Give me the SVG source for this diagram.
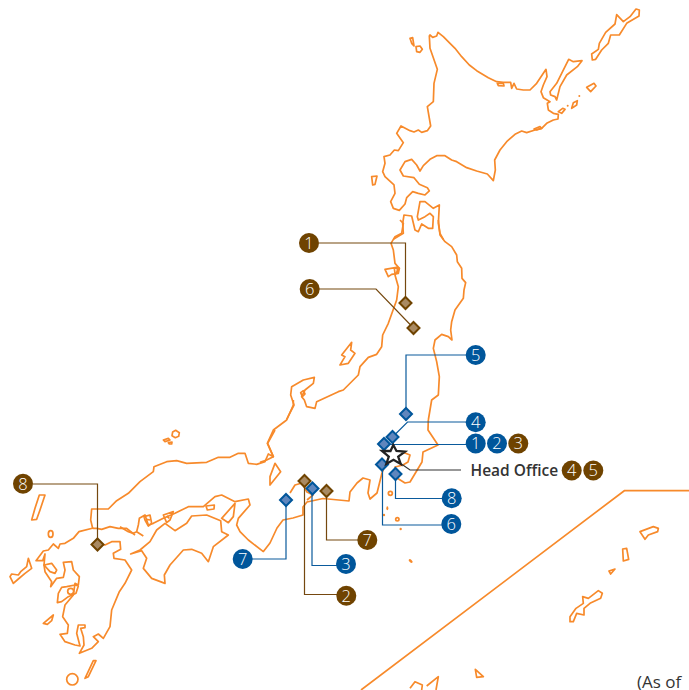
<svg xmlns="http://www.w3.org/2000/svg" width="689" height="690" viewBox="0 0 689 690">
<style>
.c{fill:none;stroke:#f78a2b;stroke-width:1.7;stroke-linejoin:round;vector-effect:non-scaling-stroke}
.d{fill:#f78a2b;stroke:none}
.lb{fill:none;stroke:#0a5a9c;stroke-width:1.2}
.lr{fill:none;stroke:#75480f;stroke-width:1.2}
.lk{fill:none;stroke:#333;stroke-width:1.2}
.bb{fill:#00569b}
.br{fill:#6f4300}
.db{fill:#5f86bd;stroke:#00569b;stroke-width:2}
.dr{fill:#a98a62;stroke:#6f4300;stroke-width:2}
.n{fill:#fff;font:300 16.500px "Open Sans","Noto Sans",sans-serif;text-anchor:middle}
.t{fill:#333;font-family:"Open Sans","Noto Sans",sans-serif}
</style>
<defs><path id="dm" d="M0,-6L6,0L0,6L-6,0Z"/></defs>
<g id="map">
<g transform="translate(340 0) scale(.33333)">
<path class="c" d="M268,108L270,105L278,112L290,108L294,97L310,110L330,130L345,145L365,170L388,195L410,212L445,233L470,245L490,247L512,247L515,265L522,250L530,267L550,270L570,270L590,250L610,220L618,208L621,230L610,255L603,275L610,293L630,305L622,310L625,330L640,340L655,343L654,357L640,360L620,370L605,385L585,390L560,398L545,393L525,403L500,425L480,450L464,480L466,510L460,542L442,522L410,513L380,503L350,485L335,480L315,467L290,467L270,478L250,497L240,513L230,495L215,478L195,485L180,510L190,528L222,533L238,553L262,563L268,573L255,585L235,580L218,575L200,593L195,612L178,631L160,625L152,605L165,580L162,555L135,530L128,515L135,490L132,470L150,465L163,450L175,452L190,428L170,400L183,378L210,392L222,396L235,390L245,397L262,392L272,378L262,320L280,305L282,250L292,208L270,145Z"/>
<path class="c" d="M210,115L218,113L222,138L215,130ZM228,140L240,138L247,148L240,157L230,155ZM95,530L111,528L105,553L98,555ZM630,275L650,250L665,220L686,178L700,185L726,182L712,200L680,225L660,260L650,300L645,290L632,285ZM755,162L775,148L778,130L797,97L825,72L830,44L850,65L870,50L888,27L898,30L897,48L860,70L838,105L812,105L805,130L785,150L767,178L757,180ZM740,262L762,250L768,258L752,275ZM655,335L668,325L675,328L665,340ZM700,308L712,302L710,315L695,325ZM582,387L600,380L605,385L590,390ZM472,250L490,250L492,258L475,257Z"/>
<circle class="d" cx="683" cy="317" r="3"/><circle class="d" cx="718" cy="288" r="3"/>
<path class="c" d="M160,718L190,700L188,670L192,645L215,648L225,690L235,695L245,672L265,685L278,685L280,650L270,640L255,650L235,660L232,650L240,605L255,605L280,625L298,615L295,670L300,700L310,718"/>
</g>
<g transform="translate(260 220) scale(.33333)">
<path class="c" d="M535,0L540,45L555,65L575,80L590,105L592,125L605,145L606,175L617,188L612,210L610,235L585,270L575,305L572,330L576,360L565,350L545,343L525,360L520,385L530,425L538,470L535,525L515,540L505,600"/>
<path class="c" d="M420,0L430,10L425,40L405,50L393,70L400,90L405,130L418,145L405,165L415,200L410,240L385,310L368,345L365,380L350,403L325,412L300,440L295,465L250,510L235,515L170,545L165,565L140,560L133,540L125,530L135,510L160,490L163,472L130,480L95,500L92,525L102,555L80,598"/>
<path class="c" d="M375,148L410,142L418,145L415,160L395,163L385,170ZM403,145L412,143L412,160L405,160Z"/>
<path class="c" d="M245,405L275,367L272,390L285,400L265,430L240,435L255,410Z"/>
<path class="c" d="M122,518L130,512L135,522L127,530Z"/>
</g>
<path class="c" d="M428.300,420L428,430L438,445L423,452L422,462L410,482L405,483L397,478L395,467L403,465L408,462L410,455L405,453L398,452M385,465L382,473L377,493L370,499L368,493L370,480L363,478L357,483L350,492L349,501L323,498.500L307,502L303,507L303,515L293,518L283,520L277,528L270,543L263,552"/>
<path class="c" d="M290,493L295,485L302,483L307,492L313,495L307,500"/>
<g transform="translate(260 400) scale(.33333)">
<path class="c" d="M100,0L100,15L80,60L40,90L22,130L40,170L20,180L0,187"/>
<path class="c" d="M45,190L62,215L30,255L30,230Z"/>
<circle class="c" cx="391" cy="280" r="6"/><circle class="c" cx="412" cy="358" r="5"/>
<ellipse class="d" cx="382" cy="325" rx="3" ry="6"/><circle class="d" cx="372" cy="345" r="3.500"/><circle class="d" cx="422" cy="387" r="3.500"/>
<ellipse class="d" cx="452" cy="483" rx="7" ry="4" transform="rotate(40 452 483)"/>
</g>
<g transform="translate(0 430) scale(.33333)">
<path class="c" d="M825,0L803,40L820,80L805,72L795,95L770,103L745,100L735,70L715,70L690,82L655,82L620,97L560,100L530,92L500,95L462,110L460,125L420,155L385,190L350,212L325,237L275,237L272,270L278,295"/>
<path class="c" d="M527,1L538,8L536,19L526,23L516,17L518,6ZM490,30L505,25L510,30L495,35ZM505,38L516,36L515,42L508,42Z"/>
</g>
<g transform="translate(120 490) scale(.33333)">
<path class="c" d="M0,110L25,125L40,130L50,125L70,138M50,125L55,105L58,85L75,75L85,105L100,100L130,85L165,70L205,50L250,50L285,20L305,15L345,35L385,27L390,45L355,85L350,105L360,125L385,150L430,185"/>
<path class="c" d="M32,192L65,182L80,205L70,235L95,265L135,280L133,255L150,225L190,180L215,178L245,190L265,215L280,170L325,135L305,125L302,92L260,75L215,78L200,100L165,122L135,100L110,120L90,155L60,180Z"/>
<path class="c" d="M305,85L345,40L340,80L325,98ZM258,48L283,45L282,57L262,60Z"/>
<path class="c" d="M72,80L90,75L95,100L85,108L75,90ZM80,88L90,90M130,75L160,65L150,90L140,98ZM140,78L148,85"/>
</g>
<g transform="translate(10 530) scale(.33333)">
<path class="c" d="M250,-6L207,5L190,25L165,40L150,42L145,55L130,42L115,60L100,63L78,92L98,92L105,72L102,105L105,125L125,155L122,170L140,145L160,142L165,120L160,97L185,95L190,120L208,140L205,165L195,160L190,195L165,225L158,260L175,285L172,310L150,313L165,335L195,345L210,348L200,310L205,285L225,285L225,293L212,295L220,320L222,345L208,370L245,355L265,335L250,320L265,312L280,325L300,290L305,240L328,185L345,160L365,120L345,90L312,85L310,70L332,58L330,35L305,35L285,45L265,40"/>
<path class="c" d="M142,218L145,190L155,172L170,170L195,165L205,168L198,190L175,200L155,215Z"/>
<circle class="c" cx="182" cy="184" r="9"/>
<path class="c" d="M102,105L125,100L140,120L135,130L120,125Z"/>
<path class="c" d="M0,140L5,132L25,135L32,125L50,110L55,85L65,115L45,130L25,147L10,160ZM100,280L130,255L125,272L112,283ZM225,445L250,392L258,392L235,440Z"/>
<ellipse class="c" cx="122" cy="12" rx="7" ry="10"/>
<circle class="c" cx="187" cy="448" r="17"/>
</g>
<g transform="translate(0 430) scale(.33333)">
<path class="c" d="M95,270L105,235L118,195L135,195L120,240L110,268Z"/>
<path class="c" d="M278,295L290,295L305,298L330,290L355,295L380,295L405,315"/>
</g>
<g transform="translate(360 480) scale(.33333)">
<path class="c" d="M630,425L630,410L648,385L670,370L668,350L685,355L715,332L727,340L722,355L690,370L672,385L672,405L650,400L640,425ZM840,155L880,140L895,145L893,155L865,165L855,178ZM788,207L800,205L806,238L790,243ZM747,273L765,267L752,282ZM346,568L370,590L350,592ZM150,625L165,605L187,615L185,630M200,618L235,590L228,630"/>
</g>
<path class="c" d="M361,690L624.300,490.700H689"/>
</g>
<g id="connectors">
<path class="lr" d="M319,243H405.500V303"/>
<path class="lr" d="M319,289H376L413.500,328"/>
<path class="lb" d="M466,355H406V414"/>
<path class="lb" d="M466,422H407.500L392.500,437"/>
<path class="lb" d="M466,444.500H384"/>
<path class="lk" d="M461,470H410L400,463"/>
<path class="lb" d="M442,525H382.500V464"/>
<path class="lb" d="M442,498.500H395.500V474"/>
<path class="lr" d="M358,540H326.500V491"/>
<path class="lb" d="M337,565.500H312V488"/>
<path class="lr" d="M337,594.500H304.500V481"/>
<path class="lb" d="M233,559H286V500"/>
<path class="lr" d="M33,484H97.500V544"/>
</g>
<g id="site-brown-1"><use href="#dm" class="dr" x="405.500" y="303"/></g>
<g id="site-brown-6"><use href="#dm" class="dr" x="413.500" y="328"/></g>
<g id="site-blue-5"><use href="#dm" class="db" x="406" y="414"/></g>
<g id="site-blue-4"><use href="#dm" class="db" x="392.500" y="437"/></g>
<g id="site-blue-1"><use href="#dm" class="db" x="384" y="444"/></g>
<g id="site-blue-6"><use href="#dm" class="db" x="382" y="464.500"/></g>
<g id="site-blue-8"><use href="#dm" class="db" x="395.500" y="474"/></g>
<g id="site-brown-2"><use href="#dm" class="dr" x="304.500" y="481"/></g>
<g id="site-blue-3"><use href="#dm" class="db" x="312.500" y="488.500"/></g>
<g id="site-brown-7"><use href="#dm" class="dr" x="326.500" y="491"/></g>
<g id="site-blue-7"><use href="#dm" class="db" x="286" y="500"/></g>
<g id="site-brown-8"><use href="#dm" class="dr" x="97.500" y="544.500"/></g>
<g id="head-office">
<path d="M393.300,445L396.500,451L405,451.700L398.200,456.600L400.700,464L393.500,459.800L386.300,464L388.800,456.600L382,451L390.500,451Z" fill="#fff" stroke="#222" stroke-width="2.300"/>
<text class="t" x="470.500" y="476" font-size="15.500" font-weight="600">Head Office</text>
<circle class="br" cx="571.700" cy="470.500" r="10"/><text class="n" x="571.700" y="476.300">4</text>
<circle class="br" cx="593.300" cy="470.500" r="10"/><text class="n" x="593.300" y="476.300">5</text>
</g>
<g id="badge-brown-1"><circle class="br" cx="309" cy="243" r="10"/><text class="n" x="309" y="248.800">1</text></g>
<g id="badge-brown-6"><circle class="br" cx="309.700" cy="289" r="10"/><text class="n" x="309.700" y="294.800">6</text></g>
<g id="badge-blue-5"><circle class="bb" cx="475.700" cy="355" r="10"/><text class="n" x="475.700" y="360.800">5</text></g>
<g id="badge-blue-4"><circle class="bb" cx="475.700" cy="422.300" r="10"/><text class="n" x="475.700" y="428.100">4</text></g>
<g id="badge-blue-1"><circle class="bb" cx="475.700" cy="443.500" r="10"/><text class="n" x="475.700" y="449.300">1</text></g>
<g id="badge-blue-2"><circle class="bb" cx="497" cy="443.500" r="10"/><text class="n" x="497" y="449.300">2</text></g>
<g id="badge-brown-3"><circle class="br" cx="518.300" cy="443.500" r="10"/><text class="n" x="518.300" y="449.300">3</text></g>
<g id="badge-blue-8"><circle class="bb" cx="451.700" cy="498.300" r="10"/><text class="n" x="451.700" y="504.100">8</text></g>
<g id="badge-blue-6"><circle class="bb" cx="451.300" cy="524" r="10"/><text class="n" x="451.300" y="529.800">6</text></g>
<g id="badge-brown-7"><circle class="br" cx="367.300" cy="540" r="10"/><text class="n" x="367.300" y="545.800">7</text></g>
<g id="badge-blue-3"><circle class="bb" cx="346" cy="564" r="10"/><text class="n" x="346" y="569.800">3</text></g>
<g id="badge-brown-2"><circle class="br" cx="346.300" cy="595.700" r="10"/><text class="n" x="346.300" y="601.500">2</text></g>
<g id="badge-blue-7"><circle class="bb" cx="242.700" cy="559" r="10"/><text class="n" x="242.700" y="564.800">7</text></g>
<g id="badge-brown-8"><circle class="br" cx="23" cy="483.700" r="10"/><text class="n" x="23" y="489.500">8</text></g>
<text class="t" x="637" y="688" font-size="17">(As of</text>
</svg>
